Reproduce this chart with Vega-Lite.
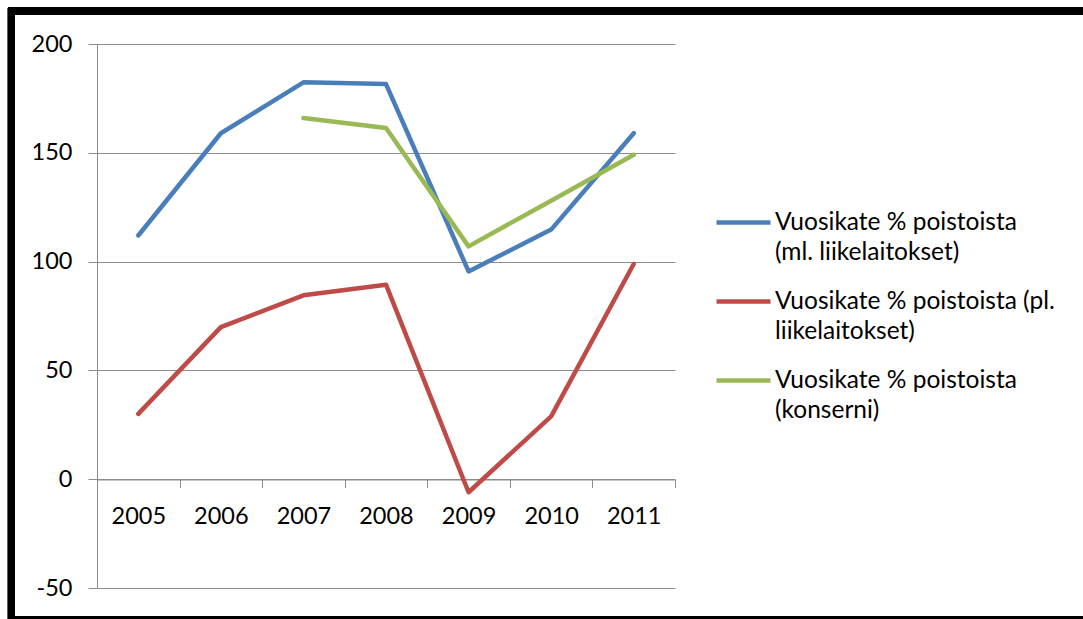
{
  "$schema": "https://vega.github.io/schema/vega-lite/v6.json",
  "autosize": {"type": "none"},
  "padding": {"left": 97, "top": 44, "right": 408, "bottom": 31},
  "width": 578,
  "height": 544,
  "background": "white",
  "config": {
    "view": {"stroke": null},
    "font": "Lato",
    "style": {"guide-label": {"lineHeight": 30}}
  },
  "data": {
    "values": [
      {"year": "2005", "series": "Vuosikate % poistoista (ml. liikelaitokset)", "value": 112},
      {"year": "2006", "series": "Vuosikate % poistoista (ml. liikelaitokset)", "value": 159},
      {"year": "2007", "series": "Vuosikate % poistoista (ml. liikelaitokset)", "value": 182.4},
      {"year": "2008", "series": "Vuosikate % poistoista (ml. liikelaitokset)", "value": 181.6},
      {"year": "2009", "series": "Vuosikate % poistoista (ml. liikelaitokset)", "value": 95.5},
      {"year": "2010", "series": "Vuosikate % poistoista (ml. liikelaitokset)", "value": 114.7},
      {"year": "2011", "series": "Vuosikate % poistoista (ml. liikelaitokset)", "value": 159},
      {"year": "2005", "series": "Vuosikate % poistoista (pl. liikelaitokset)", "value": 30},
      {"year": "2006", "series": "Vuosikate % poistoista (pl. liikelaitokset)", "value": 69.9},
      {"year": "2007", "series": "Vuosikate % poistoista (pl. liikelaitokset)", "value": 84.5},
      {"year": "2008", "series": "Vuosikate % poistoista (pl. liikelaitokset)", "value": 89.4},
      {"year": "2009", "series": "Vuosikate % poistoista (pl. liikelaitokset)", "value": -6},
      {"year": "2010", "series": "Vuosikate % poistoista (pl. liikelaitokset)", "value": 28.9},
      {"year": "2011", "series": "Vuosikate % poistoista (pl. liikelaitokset)", "value": 98.9},
      {"year": "2007", "series": "Vuosikate % poistoista (konserni)", "value": 166},
      {"year": "2008", "series": "Vuosikate % poistoista (konserni)", "value": 161.4},
      {"year": "2009", "series": "Vuosikate % poistoista (konserni)", "value": 107},
      {"year": "2010", "series": "Vuosikate % poistoista (konserni)", "value": 128},
      {"year": "2011", "series": "Vuosikate % poistoista (konserni)", "value": 149.1}
    ]
  },
  "layer": [
    {
      "mark": {"type": "rect", "fill": null, "stroke": "black", "strokeWidth": 7},
      "encoding": {
        "x": {"datum": -0.148, "type": "quantitative", "scale": {"domain": [0, 1]}, "axis": null},
        "x2": {"datum": 1.73},
        "y": {"datum": 215.2, "type": "quantitative", "scale": {"domain": [-50, 200]}},
        "y2": {"datum": -64.5}
      }
    },
    {
      "mark": {"type": "line", "strokeWidth": 4.5, "strokeCap": "round", "strokeJoin": "round"},
      "encoding": {
        "x": {
          "field": "year", "type": "ordinal", "bandPosition": 0.5,
          "scale": {"type": "band", "paddingInner": 0, "paddingOuter": 0},
          "axis": {
            "title": null, "labelAngle": 0, "offset": -108.5, "orient": "bottom",
            "tickBand": "extent", "tickSize": 8, "tickColor": "#8c8c8c",
            "domainColor": "#8c8c8c", "labelPadding": 16.5, "labelFontSize": 23.5,
            "labelColor": "#000000", "labelFont": "Lato", "grid": false
          }
        },
        "y": {
          "field": "value", "type": "quantitative",
          "scale": {"domain": [-50, 200], "nice": false, "zero": false},
          "axis": {
            "title": null, "values": [-50, 0, 50, 100, 150, 200],
            "labelExpr": "datum.value < 0 ? '-' + abs(datum.value) : '' + datum.value",
            "grid": true, "gridColor": "#8c8c8c", "gridWidth": 1,
            "tickSize": 9, "tickColor": "#8c8c8c", "domainColor": "#8c8c8c",
            "labelPadding": 16, "labelFontSize": 23.5, "labelColor": "#000000",
            "labelFont": "Lato"
          }
        },
        "color": {
          "field": "series", "type": "nominal",
          "scale": {
            "domain": ["Vuosikate % poistoista (ml. liikelaitokset)", "Vuosikate % poistoista (pl. liikelaitokset)", "Vuosikate % poistoista (konserni)"],
            "range": ["#4A7EBB", "#BE4B48", "#98B954"]
          },
          "legend": {
            "title": null, "orient": "none", "legendX": 617, "legendY": 149,
            "symbolType": "stroke", "symbolSize": 2916, "symbolStrokeWidth": 4.5,
            "labelFontSize": 24.5, "labelFont": "Lato", "labelColor": "#000000",
            "labelLimit": 0, "labelOffset": 2, "rowPadding": 8, "padding": 0,
            "labelBaseline": "middle",
            "labelExpr": "datum.label == 'Vuosikate % poistoista (ml. liikelaitokset)' ? ['Vuosikate % poistoista', '(ml. liikelaitokset)'] : datum.label == 'Vuosikate % poistoista (pl. liikelaitokset)' ? ['Vuosikate % poistoista (pl.', 'liikelaitokset)'] : ['Vuosikate % poistoista', '(konserni)']"
          }
        }
      }
    }
  ],
  "resolve": {"scale": {"x": "independent"}}
}
